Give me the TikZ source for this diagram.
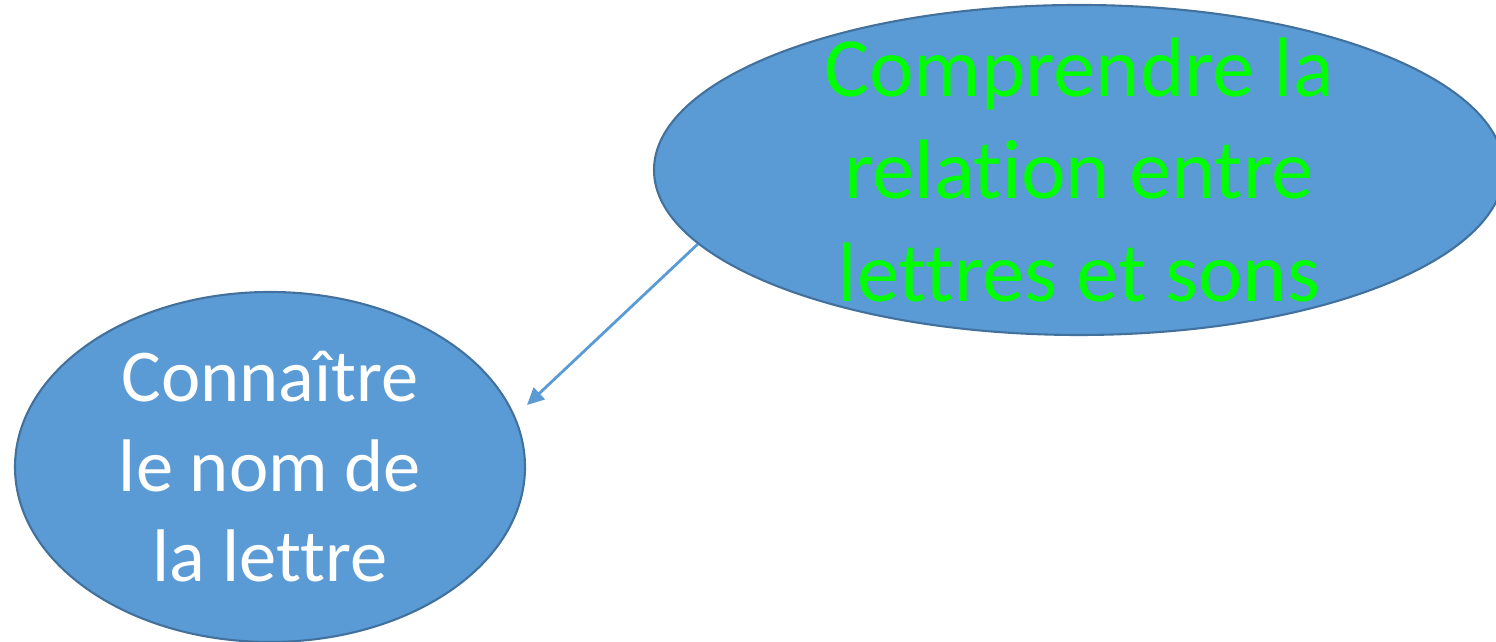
\documentclass[tikz,border=0pt]{standalone}
\usepackage{fontspec}
\setmainfont[Ligatures={NoCommon}]{Carlito}
\usepackage{xcolor}
\usepackage{tikz}
\usetikzlibrary{shapes,arrows.meta,positioning}
\definecolor{officeblue}{HTML}{5B9BD5}
\definecolor{officeedge}{HTML}{41719C}
\definecolor{brightgreen}{HTML}{00FF00}

\begin{document}
\begin{tikzpicture}[
			bubble/.style = {ellipse,fill=officeblue,draw=officeedge,line width=0.6pt,inner sep=0pt},
			bigtext/.style = {align=center,text=brightgreen,font=\fontsize{24}{29.2}\selectfont},
			smalltext/.style = {align=center,text=white,font=\fontsize{21.2}{25.6}\selectfont},
			link/.style = {officeblue,line width=0.8pt,-{Triangle[length=0.17cm,width=0.16cm]}}
			]
			\useasboundingbox (0,0) rectangle (14.96,6.42);

			\node[bubble,minimum width=8.5cm,minimum height=3.3cm] (comp) at (10.79,4.72) {};
			\node[bigtext] (comptext) at (comp) {Comprendre la\\relation entre\\lettres et sons};

			\node[bubble,minimum width=5.1cm,minimum height=3.5cm] (conn) at (2.7,1.75) {};
			\node[smalltext] (conntext) at (conn) {Connaître\\le nom de\\la lettre};

			\coordinate (tip) at (5.27,2.37);
			\draw[link] (comp.191) -- (tip);

		\end{tikzpicture}
\end{document}
